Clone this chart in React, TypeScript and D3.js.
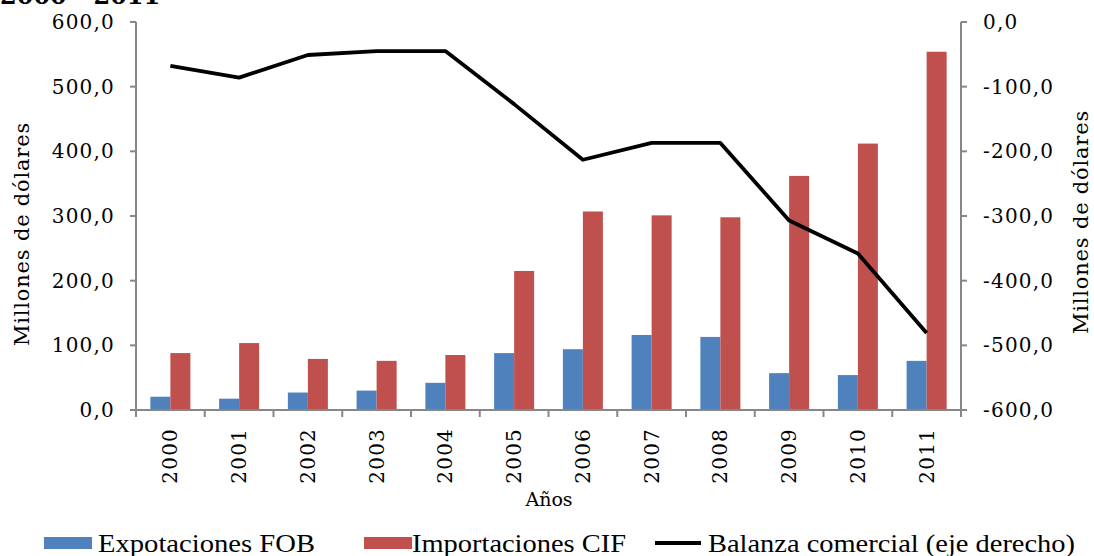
import * as d3 from 'd3'
import { useEffect, useRef } from 'react'

const years = ['2000','2001','2002','2003','2004','2005','2006','2007','2008','2009','2010','2011']
const exportsFOB = [20.5, 17.5, 27, 30, 42, 88, 94, 116, 113, 57, 54, 76]
const importsCIF = [88, 103.5, 79, 76, 85, 215, 307, 301, 298, 362, 412, 554]
const balanza = [-68, -86, -51, -45, -45, -127, -213, -187, -187, -307, -358, -481]
const leftTicks = [0, 100, 200, 300, 400, 500, 600]
const rightTicks = [-600, -500, -400, -300, -200, -100, 0]

const seriesNames = ['Expotaciones FOB', 'Importaciones CIF', 'Balanza comercial (eje derecho)']
const colors = ['#4F81BD', '#C0504D', '#000000']

const W = 1094
const H = 556
const FONT = '"DejaVu Serif", serif'
const AXIS = '#878787'

const fmt = (v: number) => d3.format('.1f')(v).replace('.', ',').replace('−', '-')

export default function App() {
    const svgRef = useRef(null) as any

    useEffect(() => {
        const svg = d3.select(svgRef.current)
        svg.selectAll('*').remove()

        const left = 136
        const right = 961
        const top = 22
        const bottom = 410

        const x0 = d3.scaleBand()
            .domain(years)
            .range([left, right])
            .paddingInner(0.418)
            .paddingOuter(0.209)

        const x1 = d3.scaleBand()
            .domain(['exp', 'imp'])
            .range([0, x0.bandwidth()])

        const yL = d3.scaleLinear().domain([0, 600]).range([bottom, top])
        const yR = d3.scaleLinear().domain([-600, 0]).range([bottom, top])

        const step = (right - left) / years.length

        // title (cut at top, as in the source)
        svg.append('text')
            .attr('x', 0)
            .attr('y', 4)
            .attr('font-family', FONT)
            .attr('font-weight', 'bold')
            .attr('font-size', 24)
            .attr('fill', '#000')
            .text('2000 - 2011')

        // bars
        const g = svg.append('g')
        years.forEach((yr, i) => {
            const bx = x0(yr) as number
            g.append('rect')
                .attr('x', bx + (x1('exp') as number))
                .attr('y', yL(exportsFOB[i]))
                .attr('width', x1.bandwidth())
                .attr('height', bottom - yL(exportsFOB[i]))
                .attr('fill', colors[0])
            g.append('rect')
                .attr('x', bx + (x1('imp') as number))
                .attr('y', yL(importsCIF[i]))
                .attr('width', x1.bandwidth())
                .attr('height', bottom - yL(importsCIF[i]))
                .attr('fill', colors[1])
        })

        // axes lines
        svg.append('line').attr('x1', left).attr('x2', left).attr('y1', top).attr('y2', bottom)
            .attr('stroke', AXIS).attr('stroke-width', 2)
        svg.append('line').attr('x1', right).attr('x2', right).attr('y1', top).attr('y2', bottom)
            .attr('stroke', AXIS).attr('stroke-width', 2)
        svg.append('line').attr('x1', left - 6).attr('x2', right + 6).attr('y1', bottom).attr('y2', bottom)
            .attr('stroke', AXIS).attr('stroke-width', 2)

        leftTicks.forEach(t => {
            svg.append('line').attr('x1', left - 6).attr('x2', left).attr('y1', yL(t)).attr('y2', yL(t))
                .attr('stroke', AXIS).attr('stroke-width', 2)
            svg.append('text')
                .attr('x', 115)
                .attr('y', yL(t))
                .attr('dy', '0.35em')
                .attr('text-anchor', 'end')
                .attr('font-family', FONT)
                .attr('font-size', 20)
                .attr('letter-spacing', 1.2)
                .attr('fill', '#000')
                .text(fmt(t))
        })

        rightTicks.forEach(t => {
            svg.append('line').attr('x1', right).attr('x2', right + 6).attr('y1', yR(t)).attr('y2', yR(t))
                .attr('stroke', AXIS).attr('stroke-width', 2)
            svg.append('text')
                .attr('x', 983)
                .attr('y', yR(t))
                .attr('dy', '0.35em')
                .attr('text-anchor', 'start')
                .attr('font-family', FONT)
                .attr('font-size', 20)
                .attr('letter-spacing', 1.2)
                .attr('fill', '#000')
                .text(fmt(t))
        })

        // x ticks at category boundaries
        for (let i = 0; i <= years.length; i++) {
            const tx = left + step * i
            svg.append('line').attr('x1', tx).attr('x2', tx).attr('y1', bottom).attr('y2', bottom + 7)
                .attr('stroke', AXIS).attr('stroke-width', 2)
        }

        years.forEach(yr => {
            const cx = (x0(yr) as number) + x0.bandwidth() / 2
            svg.append('text')
                .attr('transform', `translate(${cx + 7},428) rotate(-90)`)
                .attr('text-anchor', 'end')
                .attr('font-family', FONT)
                .attr('font-size', 20)
                .attr('letter-spacing', 1.2)
                .attr('fill', '#000')
                .text(yr)
        })

        // line
        const line = d3.line<number>()
            .x((_d, i) => (x0(years[i]) as number) + x0.bandwidth() / 2)
            .y(d => yR(d))
        svg.append('path')
            .datum(balanza)
            .attr('d', line)
            .attr('fill', 'none')
            .attr('stroke', colors[2])
            .attr('stroke-width', 3.8)
            .attr('stroke-linejoin', 'round')

        // axis titles
        svg.append('text')
            .attr('transform', `translate(29,${(top + bottom) / 2 + 18}) rotate(-90)`)
            .attr('text-anchor', 'middle')
            .attr('font-family', FONT)
            .attr('font-size', 21)
            .attr('letter-spacing', 0.8)
            .attr('fill', '#000')
            .text('Millones de dólares')

        svg.append('text')
            .attr('transform', `translate(1088,${(top + bottom) / 2 + 6}) rotate(-90)`)
            .attr('text-anchor', 'middle')
            .attr('font-family', FONT)
            .attr('font-size', 21)
            .attr('letter-spacing', 0.8)
            .attr('fill', '#000')
            .text('Millones de dólares')

        svg.append('text')
            .attr('x', 549)
            .attr('y', 506)
            .attr('text-anchor', 'middle')
            .attr('font-family', FONT)
            .attr('font-size', 19)
            .attr('fill', '#000')
            .text('Años')

        // legend
        const legend = [
            { sx: 44, tx: 98, tw: 217 },
            { sx: 364, tx: 412, tw: 214 },
            { sx: 655, tx: 708, tw: 367 },
        ]
        legend.forEach((l, i) => {
            if (i < 2) {
                svg.append('rect')
                    .attr('x', l.sx).attr('y', 537).attr('width', 48).attr('height', 12)
                    .attr('fill', colors[i])
            } else {
                svg.append('line')
                    .attr('x1', l.sx).attr('x2', l.sx + 46).attr('y1', 543).attr('y2', 543)
                    .attr('stroke', colors[i]).attr('stroke-width', 4)
            }
            svg.append('text')
                .attr('x', l.tx)
                .attr('y', 552)
                .attr('font-family', '"Liberation Serif", serif')
                .attr('font-size', 25)
                .attr('textLength', l.tw)
                .attr('lengthAdjust', 'spacingAndGlyphs')
                .attr('fill', '#000')
                .text(seriesNames[i])
        })
    }, [])

    return (
        <svg ref={svgRef} width={W} height={H}
            style={{ position: 'absolute', left: 0, top: 0, background: '#fff' }} />
    )
}
